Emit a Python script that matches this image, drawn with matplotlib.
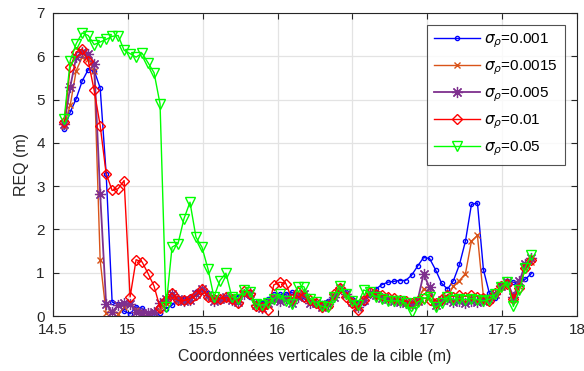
import numpy as np
import matplotlib
matplotlib.use("Agg")
import matplotlib.pyplot as plt

plt.rcParams['font.family'] = ['Liberation Sans', 'DejaVu Sans']

# sampling positions (m)
x_start = 14.575
x_step = 0.04
n_pts = 79
x = np.round(x_start + x_step * np.arange(n_pts), 3)

s_001 = [4.31, 4.71, 5.02, 5.43, 5.69, 5.67, 5.27, 3.29, 0.32, 0.28,
         0.11, 0.05, 0.21, 0.18, 0.08, 0.05, 0.08, 0.17, 0.25, 0.40,
         0.40, 0.43, 0.55, 0.63, 0.52, 0.40, 0.35, 0.40, 0.40, 0.45,
         0.50, 0.45, 0.30, 0.30, 0.40, 0.50, 0.50, 0.50, 0.55, 0.45,
         0.40, 0.32, 0.28, 0.30, 0.35, 0.45, 0.59, 0.55, 0.40, 0.30,
         0.30, 0.48, 0.62, 0.72, 0.78, 0.80, 0.82, 0.82, 0.94, 1.15,
         1.35, 1.33, 1.07, 0.76, 0.62, 0.82, 1.19, 1.73, 2.58, 2.61,
         1.07, 0.52, 0.42, 0.72, 0.80, 0.78, 0.75, 0.85, 0.98]

s_0015 = [4.40, 4.87, 5.67, 5.98, 5.94, 5.67, 1.29, 0.06, 0.10, 0.05,
          0.20, 0.30, 0.15, 0.10, 0.08, 0.10, 0.15, 0.30, 0.45, 0.35,
          0.35, 0.40, 0.50, 0.60, 0.45, 0.42, 0.38, 0.40, 0.42, 0.35,
          0.52, 0.48, 0.25, 0.22, 0.28, 0.45, 0.42, 0.40, 0.35, 0.50,
          0.48, 0.35, 0.28, 0.22, 0.25, 0.48, 0.66, 0.48, 0.32, 0.18,
          0.40, 0.55, 0.50, 0.45, 0.42, 0.40, 0.38, 0.35, 0.30, 0.35,
          0.63, 0.55, 0.30, 0.38, 0.45, 0.69, 0.82, 0.98, 1.73, 1.86,
          0.44, 0.38, 0.50, 0.68, 0.76, 0.40, 0.70, 1.10, 1.25]

s_005 = [4.43, 5.29, 5.98, 6.10, 6.06, 5.83, 2.83, 0.27, 0.10, 0.25,
         0.30, 0.27, 0.10, 0.08, 0.08, 0.10, 0.30, 0.40, 0.50, 0.40,
         0.35, 0.38, 0.50, 0.62, 0.48, 0.35, 0.40, 0.45, 0.38, 0.32,
         0.50, 0.52, 0.25, 0.18, 0.30, 0.40, 0.35, 0.42, 0.30, 0.45,
         0.50, 0.30, 0.30, 0.20, 0.28, 0.45, 0.65, 0.50, 0.32, 0.20,
         0.38, 0.52, 0.48, 0.42, 0.40, 0.35, 0.32, 0.30, 0.25, 0.35,
         0.97, 0.66, 0.25, 0.38, 0.40, 0.32, 0.35, 0.30, 0.35, 0.32,
         0.35, 0.40, 0.50, 0.70, 0.78, 0.45, 0.80, 1.20, 1.33]

s_01 = [4.48, 5.75, 6.10, 6.17, 5.90, 5.21, 4.40, 3.29, 2.90, 2.94,
        3.13, 0.44, 1.30, 1.25, 0.98, 0.69, 0.19, 0.38, 0.53, 0.36,
        0.36, 0.40, 0.48, 0.63, 0.45, 0.40, 0.40, 0.43, 0.40, 0.30,
        0.58, 0.50, 0.22, 0.20, 0.15, 0.72, 0.78, 0.75, 0.40, 0.55,
        0.45, 0.38, 0.30, 0.20, 0.22, 0.50, 0.65, 0.45, 0.30, 0.13,
        0.38, 0.55, 0.50, 0.48, 0.45, 0.42, 0.38, 0.35, 0.30, 0.35,
        0.42, 0.38, 0.30, 0.40, 0.48, 0.45, 0.48, 0.45, 0.48, 0.45,
        0.42, 0.35, 0.52, 0.69, 0.75, 0.40, 0.65, 1.10, 1.30]

s_05 = [4.56, 5.90, 6.29, 6.54, 6.48, 6.27, 6.33, 6.39, 6.46, 6.48,
        6.14, 6.06, 5.98, 6.07, 5.85, 5.62, 4.90, 0.21, 1.59, 1.67,
        2.25, 2.63, 1.82, 1.59, 1.09, 0.44, 0.82, 0.99, 0.44, 0.40,
        0.60, 0.55, 0.28, 0.25, 0.30, 0.40, 0.50, 0.35, 0.27, 0.68,
        0.68, 0.40, 0.32, 0.22, 0.20, 0.45, 0.70, 0.50, 0.35, 0.25,
        0.60, 0.55, 0.45, 0.40, 0.35, 0.35, 0.35, 0.30, 0.10, 0.32,
        0.40, 0.45, 0.20, 0.30, 0.45, 0.38, 0.40, 0.38, 0.40, 0.38,
        0.35, 0.38, 0.50, 0.68, 0.79, 0.22, 0.59, 1.12, 1.42]

labels = [r'$\sigma_\rho$=0.001', r'$\sigma_\rho$=0.0015', r'$\sigma_\rho$=0.005',
          r'$\sigma_\rho$=0.01', r'$\sigma_\rho$=0.05']
colors = ['#0000FF', '#D95319', '#7E2F8E', '#FF0000', '#00FF00']

xticks = [14.5, 15, 15.5, 16, 16.5, 17, 17.5, 18]
xticklabels = ['14.5', '15', '15.5', '16', '16.5', '17', '17.5', '18']
yticks = [0, 1, 2, 3, 4, 5, 6, 7]

fig = plt.figure(figsize=(5.84, 3.71), dpi=100)
ax = fig.add_axes([53/584, (371-316)/371, (577-53)/584, (316-13)/371])

tc = '#262626'
ax.plot(x, s_001, color=colors[0], lw=1.0, marker='o', ms=3, mfc='none', mew=1.0, label=labels[0])
ax.plot(x, s_0015, color=colors[1], lw=1.0, marker='x', ms=4, mew=1.0, label=labels[1])
ax.plot(x, s_005, color=colors[2], lw=1.3, marker=(8, 2, 0), ms=8, mew=0.9, label=labels[2])
ax.plot(x, s_01, color=colors[3], lw=1.0, marker='D', ms=5, mfc='none', mew=1.0, label=labels[3])
ax.plot(x, s_05, color=colors[4], lw=1.0, marker='v', ms=7, mfc='none', mew=1.0, label=labels[4])

ax.set_xlim(14.5, 18)
ax.set_ylim(0, 7)
ax.set_xticks(xticks)
ax.set_xticklabels(xticklabels)
ax.set_yticks(yticks)
ax.grid(True, color='#e3e3e3', lw=0.9)
ax.set_axisbelow(True)
for s in ax.spines.values():
    s.set_color(tc)
    s.set_linewidth(0.8)
ax.tick_params(direction='in', length=4, width=0.8, colors=tc, labelsize=11,
               top=True, right=True, labelcolor=tc)
ax.tick_params(axis='y', pad=6)
ax.tick_params(axis='x', pad=5)
ax.set_xlabel('Coordonnées verticales de la cible (m)', fontsize=11.5, color=tc, labelpad=9)
ax.set_ylabel('REQ (m)', fontsize=11.5, color=tc, labelpad=5)

leg = ax.legend(loc='upper right', bbox_to_anchor=((565-53)/524, (316-25)/303),
                fontsize=11, frameon=True, fancybox=False, edgecolor=tc,
                handlelength=3.0, borderaxespad=0, labelspacing=0.55, handletextpad=0.3,
                borderpad=0.45)
leg.get_frame().set_linewidth(0.8)

fig.savefig('out.png', dpi=100)
